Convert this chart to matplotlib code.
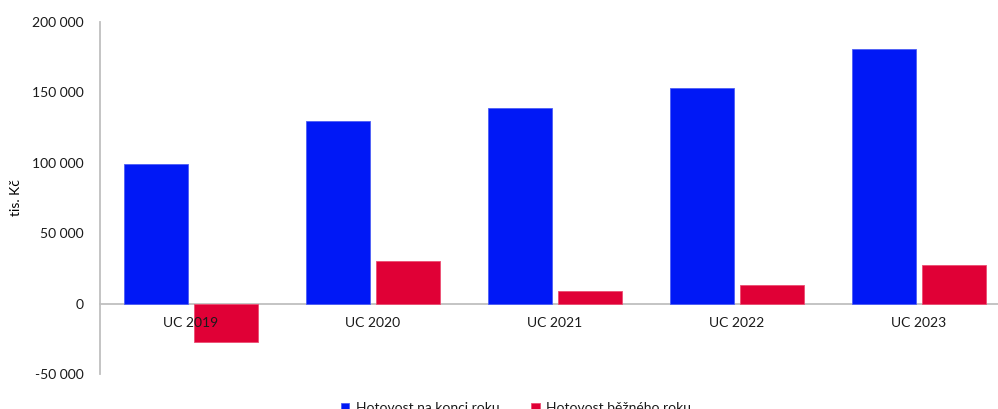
import numpy as np
import matplotlib.pyplot as plt
from matplotlib.ticker import FuncFormatter

# values in thousands CZK
categories = ['UC 2019', 'UC 2020', 'UC 2021', 'UC 2022', 'UC 2023']
cash_end = [99000, 129800, 139000, 152800, 180400]
cash_year = [-27100, 30400, 9200, 13400, 27600]
series_names = ['Hotovost na konci roku', 'Hotovost běžného roku']

blue = '#0018F6'
red = '#E00036'

plt.rcParams['font.family'] = ['Lato', 'DejaVu Sans']
plt.rcParams['font.size'] = 10
plt.rcParams['text.color'] = '#1a1a1a'

fig = plt.figure(figsize=(9.98, 4.09), dpi=100)
# axes runs a little past the right edge of the figure
ax = fig.add_axes([100/998, 1 - 374/409, 910/998, (374 - 21.6)/409])

x = np.arange(len(categories))
w = 0.35
off = 0.193
ax.bar(x - off, cash_end, w, color=blue, edgecolor='#4d5ef5', linewidth=0.6, label=series_names[0], zorder=2)
ax.bar(x + off, cash_year, w, color=red, edgecolor='#ec4d72', linewidth=0.6, label=series_names[1], zorder=2)

ax.set_xlim(-0.5, len(categories) - 0.5)
ax.set_ylim(-50000, 200000)
ax.set_yticks(np.arange(-50000, 200001, 50000))
ax.yaxis.set_major_formatter(FuncFormatter(lambda v, p: f'{v:,.0f}'.replace(',', ' ')))

ax.set_xticks(x)
ax.set_xticklabels(categories)
ax.set_axisbelow(False)  # category labels sit on top of the bars

for s in ['top', 'right']:
    ax.spines[s].set_visible(False)
ax.spines['bottom'].set_position(('data', 0))
ax.spines['bottom'].set_color('#bfbfbf')
ax.spines['left'].set_color('#bfbfbf')
ax.spines['bottom'].set_linewidth(1.3)
ax.spines['left'].set_linewidth(1.3)
ax.spines['bottom'].set_zorder(1.8)
ax.tick_params(axis='both', length=0, colors='#1a1a1a')
ax.tick_params(axis='y', pad=12)
ax.tick_params(axis='x', pad=10)

ax.set_ylabel('tis. Kč', labelpad=7)

fig.legend(loc='center', bbox_to_anchor=(0.517, 0.002), ncol=2, frameon=False,
           handlelength=0.6, handleheight=0.6, handletextpad=0.45, columnspacing=2.3)

plt.savefig('out.png', dpi=100)
